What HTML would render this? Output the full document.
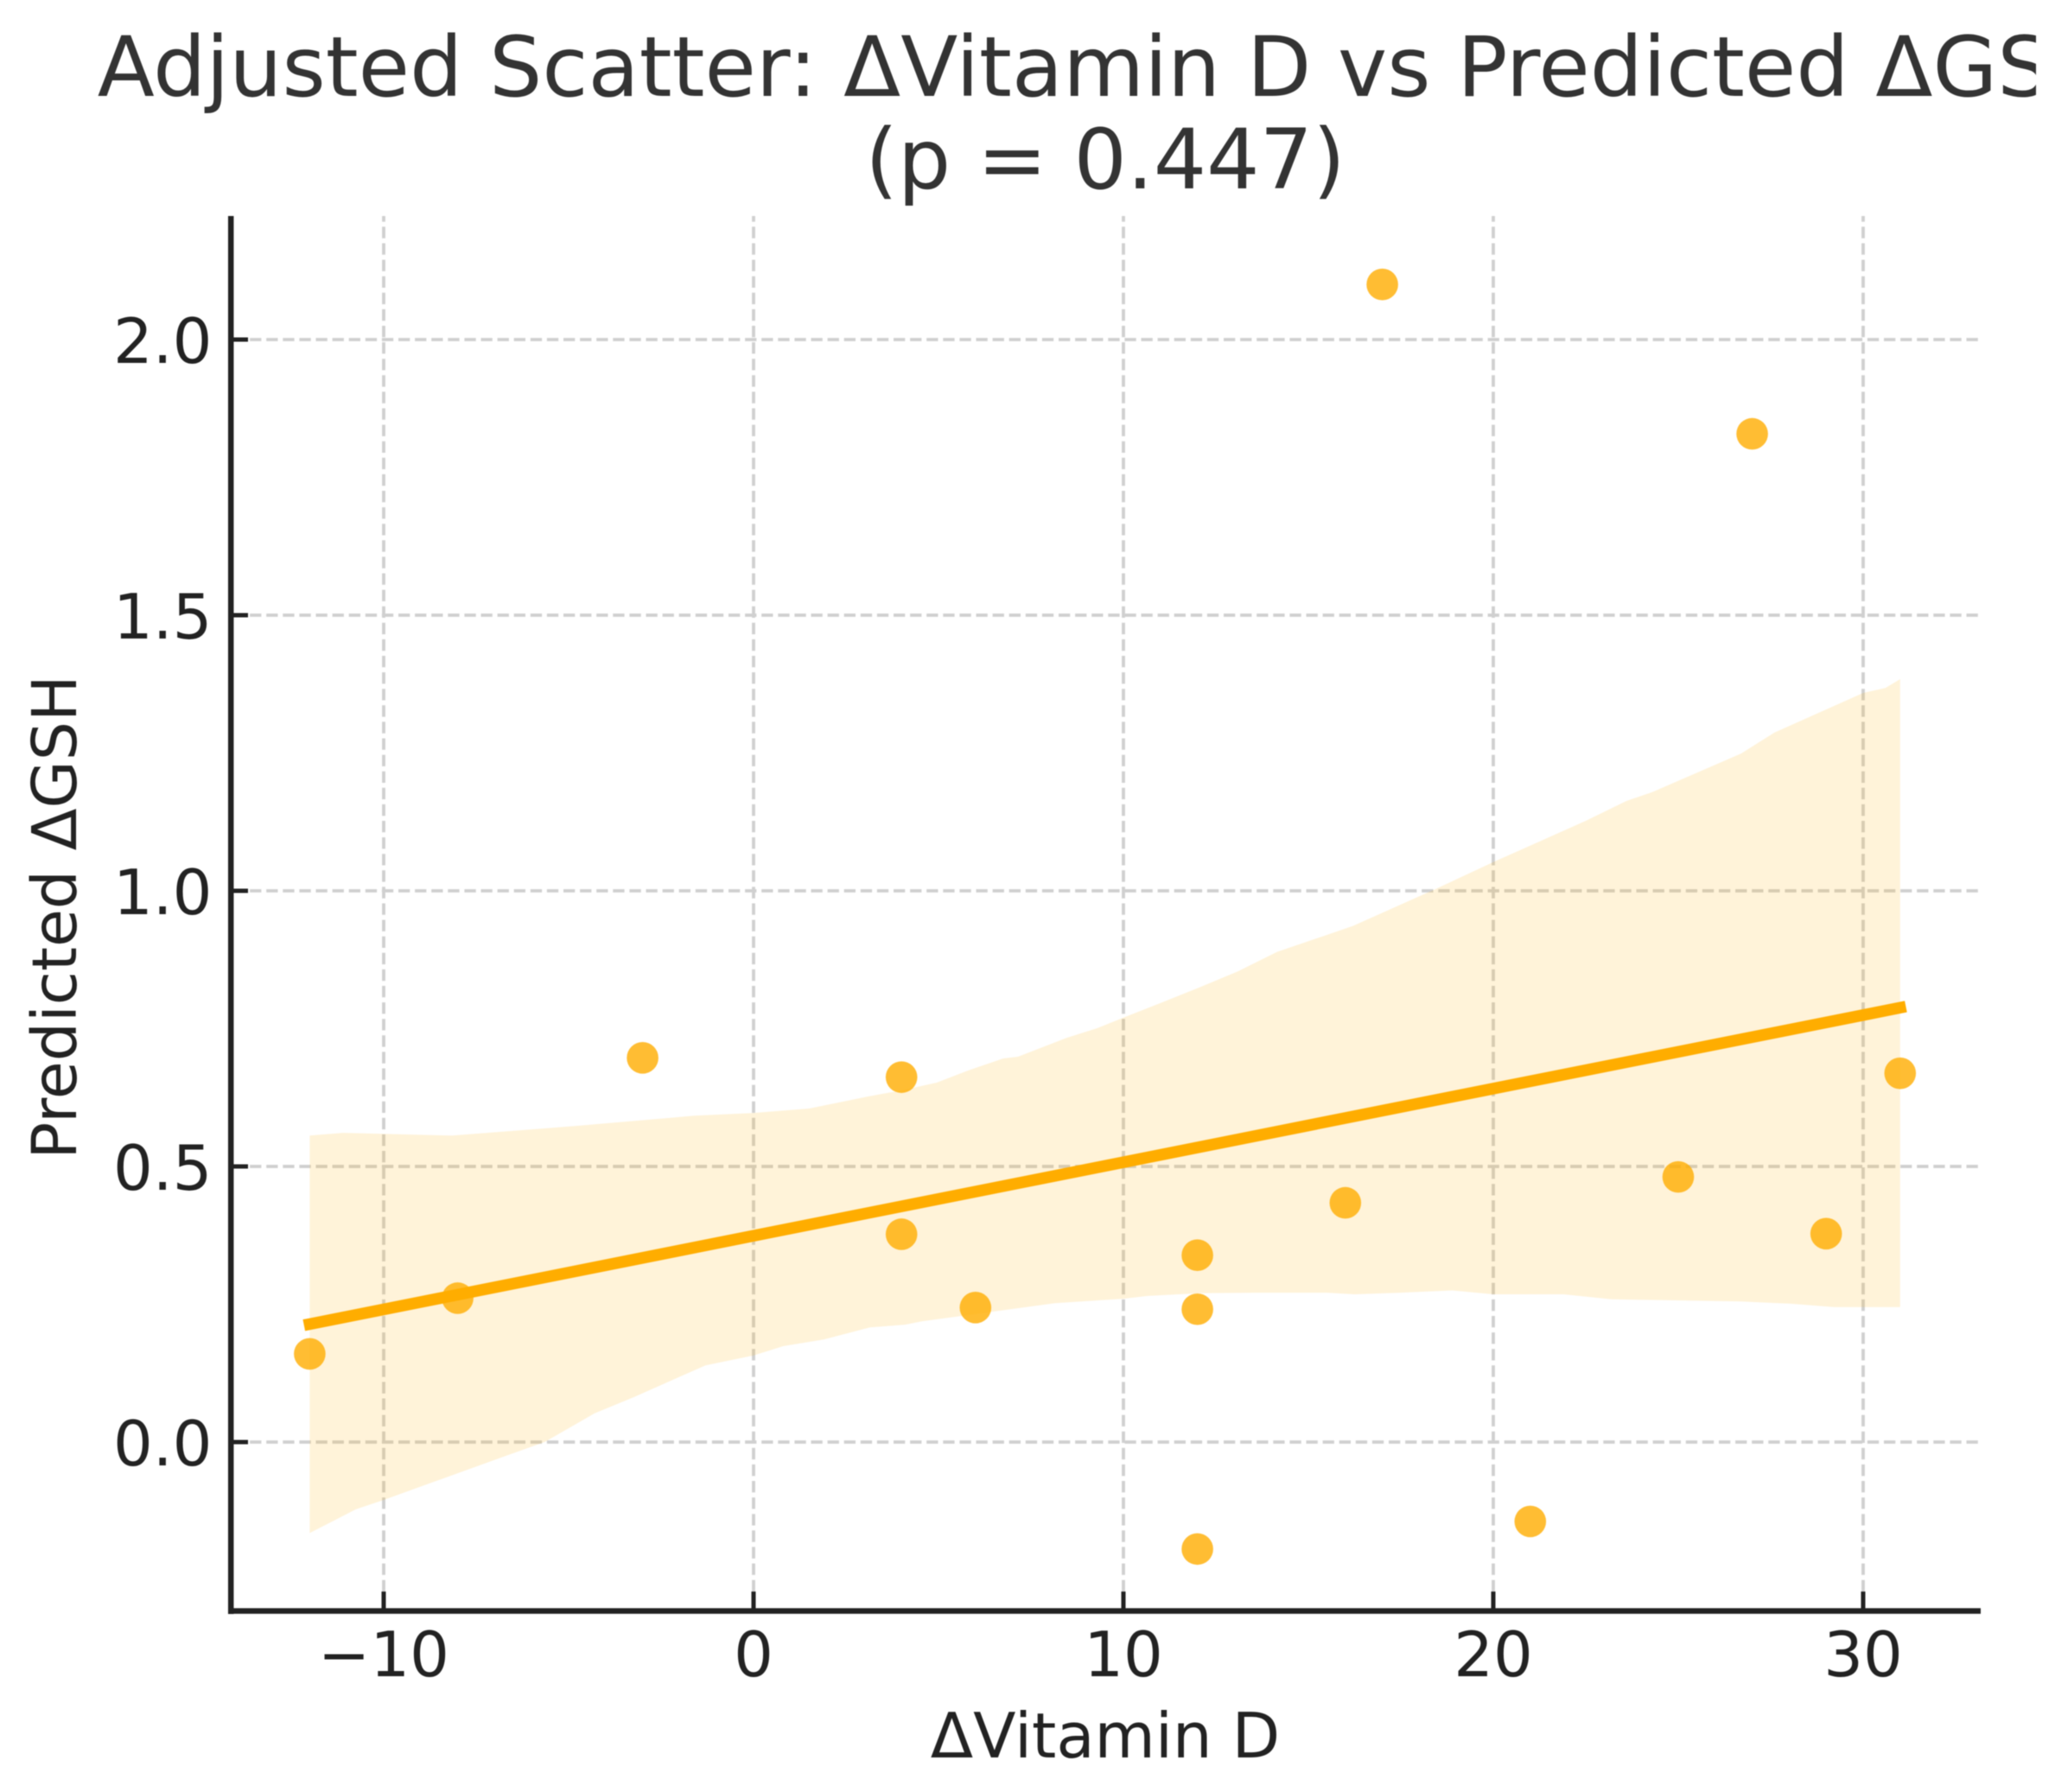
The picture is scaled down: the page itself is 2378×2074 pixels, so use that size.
<!DOCTYPE html>
<html lang="en">
<head>
<meta charset="utf-8">
<title>Adjusted Scatter: ΔVitamin D vs Predicted ΔGSH</title>
<style>
  html, body { margin: 0; padding: 0; background: #fff; width: 2378px; height: 2074px; overflow: hidden; }
  svg { display: block; filter: blur(0.6px); }
  text { font-family: "DejaVu Sans", "Liberation Sans", sans-serif; }
</style>
</head>
<body>
<svg id="chart" xmlns="http://www.w3.org/2000/svg" width="2378" height="2074" viewBox="0 0 2378 2074">
  <rect x="0" y="0" width="2378" height="2074" fill="#ffffff"/>
  <text x="1279" y="111" font-size="96.6" fill="#333333" text-anchor="middle">Adjusted Scatter: ΔVitamin D vs Predicted ΔGSH</text>
  <text x="1279" y="218" font-size="96.6" fill="#333333" text-anchor="middle">(p = 0.447)</text>
  <rect x="2356" y="0" width="22" height="240" fill="#ffffff"/>
  <g id="grid"></g>
  <path id="band" fill="#ffad00" fill-opacity="0.15" stroke="none"></path>
  <g id="points"></g>
  <line id="fit" stroke="#ffad00" stroke-width="13.5" stroke-linecap="square"></line>
  <g id="ticks"></g>
  <line x1="267.2" y1="250" x2="267.2" y2="1868" stroke="#222222" stroke-width="6.5"/>
  <line x1="264" y1="1864.5" x2="2292" y2="1864.5" stroke="#222222" stroke-width="6.5"/>
  <text x="1279" y="2034" font-size="72.2" fill="#222222" text-anchor="middle">ΔVitamin D</text>
  <text x="88" y="1061.5" font-size="71.3" fill="#222222" text-anchor="middle" transform="rotate(-90 88 1061.5)">Predicted ΔGSH</text>
</svg>
<script>
// Chart data
const pointX = [-12, -8, -3, 4, 4, 6, 12, 12, 12, 16, 17, 21, 25, 27, 29, 31];
const pointY = [0.160, 0.261, 0.697, 0.662, 0.377, 0.244, 0.339, 0.241, -0.194, 0.434, 2.10, -0.144, 0.481, 1.829, 0.378, 0.669];
const fitX = [-12, 31];
const fitY = [0.214, 0.788];
const bandUpperX = [-12, -11.1, -8.15, -4.7, -1.6, 0, 1.5, 3.1, 4, 4.95, 5.8, 6.75, 7.15, 8.46, 9.3, 10, 10.95, 12.1, 13.1, 14.15, 16.2, 18.4, 20, 22.5, 23.6, 24.3, 26.7, 27.6, 30, 30.6, 31];
const bandUpperY = [0.556, 0.561, 0.556, 0.574, 0.592, 0.597, 0.605, 0.627, 0.638, 0.652, 0.674, 0.696, 0.699, 0.733, 0.751, 0.770, 0.795, 0.826, 0.854, 0.889, 0.936, 1.002, 1.052, 1.127, 1.163, 1.179, 1.249, 1.287, 1.359, 1.368, 1.384];
const bandLowerX = [-12, -10.75, -10, -6.7, -5.65, -4.3, -3.25, -2.35, -1.3, 0, 0.8, 1.9, 3.15, 4.1, 4.55, 5.65, 8.15, 10, 10.65, 12.05, 13.6, 15.5, 16.25, 17.5, 18.9, 20, 21.9, 23.2, 26.7, 28.05, 29.2, 31];
const bandLowerY = [-0.165, -0.122, -0.105, -0.025, 0, 0.052, 0.081, 0.108, 0.139, 0.157, 0.174, 0.186, 0.208, 0.213, 0.219, 0.229, 0.252, 0.260, 0.265, 0.270, 0.271, 0.271, 0.268, 0.271, 0.275, 0.268, 0.268, 0.259, 0.255, 0.251, 0.245, 0.245];
const xTickValues = [-10, 0, 10, 20, 30];
const xTickLabels = ['\u221210', '0', '10', '20', '30'];
const yTickValues = [0, 0.5, 1, 1.5, 2];
const yTickLabels = ['0.0', '0.5', '1.0', '1.5', '2.0'];

// Axis functions
function X(v) { return 872 + 42.8 * v; }
function Y(v) { return 1669 - 638 * v; }

const NS = 'http://www.w3.org/2000/svg';
function make(tag, attrs, parent) {
  const el = document.createElementNS(NS, tag);
  for (const k in attrs) el.setAttribute(k, attrs[k]);
  parent.appendChild(el);
  return el;
}

const gridG = document.getElementById('grid');
const ticksG = document.getElementById('ticks');
const gridStyle = { stroke: '#d0d0d0', 'stroke-width': 3.8, 'stroke-dasharray': '13.3 5.8' };

xTickValues.forEach(function (v, i) {
  const g = make('line', Object.assign({ x1: X(v), x2: X(v), y1: 1861, y2: 250 }, gridStyle), gridG);
  
  
  const t = make('line', { x1: X(v), x2: X(v), y1: 1864, y2: 1842, stroke: '#222222', 'stroke-width': 5 }, ticksG);
  
  
  const l = make('text', { x: X(v), y: 1940, 'font-size': 72, fill: '#222222', 'text-anchor': 'middle' }, ticksG);
  
  
  l.textContent = xTickLabels[i];
});

yTickValues.forEach(function (v, i) {
  const g = make('line', Object.assign({ x1: 270, x2: 2292, y1: Y(v), y2: Y(v) }, gridStyle), gridG);
  
  
  const t = make('line', { x1: 267, x2: 287, y1: Y(v), y2: Y(v), stroke: '#222222', 'stroke-width': 5 }, ticksG);
  
  
  const l = make('text', { x: 245.5, y: Y(v) + 27, 'font-size': 72, fill: '#222222', 'text-anchor': 'end' }, ticksG);
  
  
  l.textContent = yTickLabels[i];
});

// Confidence band
let d = '';
bandUpperX.forEach(function (v, i) {
  d += (i === 0 ? 'M' : 'L') + X(v).toFixed(1) + ' ' + Y(bandUpperY[i]).toFixed(1);
});
for (let i = bandLowerX.length - 1; i >= 0; i--) {
  d += 'L' + X(bandLowerX[i]).toFixed(1) + ' ' + Y(bandLowerY[i]).toFixed(1);
}
document.getElementById('band').setAttribute('d', d + 'Z');

// Points
const pointsG = document.getElementById('points');
pointX.forEach(function (v, i) {
  const c = make('circle', { cx: X(v), cy: Y(pointY[i]), r: 18.3, fill: '#ffad00', 'fill-opacity': 0.8 }, pointsG);
  
  
});

// Regression line
const fit = document.getElementById('fit');
fit.setAttribute('x1', X(fitX[0]));
fit.setAttribute('y1', Y(fitY[0]));
fit.setAttribute('x2', X(fitX[1]));
fit.setAttribute('y2', Y(fitY[1]));
</script>
</body>
</html>
